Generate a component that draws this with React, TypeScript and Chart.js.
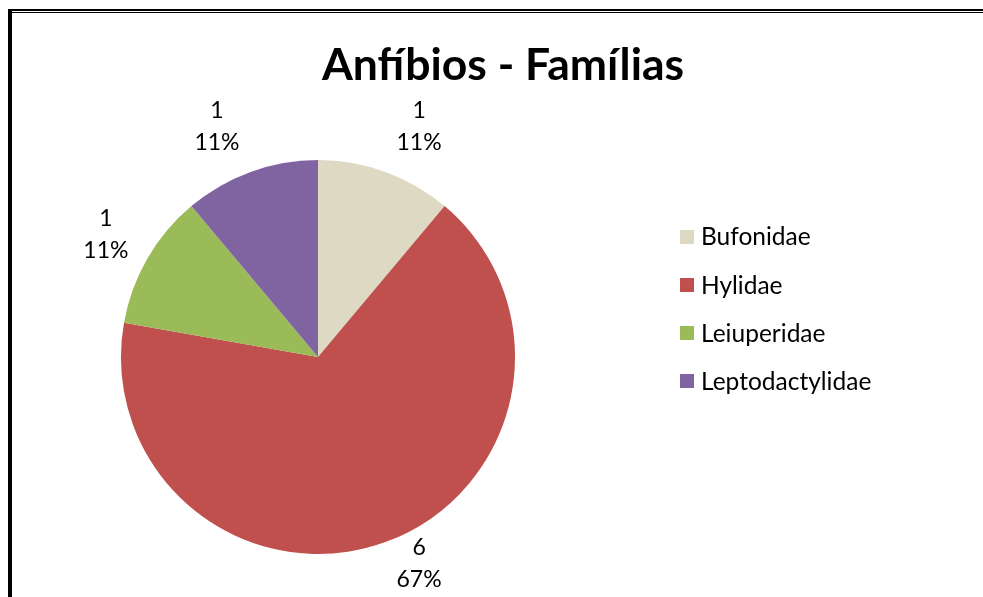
import { useEffect, useRef } from "react";
import { Chart, registerables } from "chart.js";

Chart.register(...registerables);

// Amphibian families and number of species recorded in each
const families = ["Bufonidae", "Hylidae", "Leiuperidae", "Leptodactylidae"];
const speciesCounts = [1, 6, 1, 1];
const sliceColors = ["#DDD9C3", "#C0504D", "#9BBB59", "#8064A2"];
const chartTitle = "Anfíbios - Famílias";

const WIDTH = 983;
const HEIGHT = 597;
const FONT_FAMILY = "Lato, 'Open Sans', sans-serif";
const LABEL_FONT = `23px ${FONT_FAMILY}`;
const LEGEND_FONT = `24.5px ${FONT_FAMILY}`;
const TITLE_FONT = `bold 44.5px ${FONT_FAMILY}`;

// Frame, title, outside data labels and the legend, drawn on the chart canvas
const decorations = {
  id: "decorations",
  beforeDraw(chart: Chart) {
    const { ctx } = chart;
    ctx.save();
    ctx.fillStyle = "#ffffff";
    ctx.fillRect(0, 0, WIDTH, HEIGHT);
    ctx.fillStyle = "#000000";
    // double top rule and heavy left rule of the chart frame
    ctx.fillRect(8, 9, WIDTH - 8, 2);
    ctx.fillRect(10, 12, WIDTH - 10, 1);
    ctx.fillRect(8, 9, 4, HEIGHT - 9);
    ctx.restore();
  },
  afterDatasetsDraw(chart: Chart) {
    const { ctx } = chart;
    const meta = chart.getDatasetMeta(0);
    const values = chart.data.datasets[0].data as number[];
    const total = values.reduce((a, b) => a + b, 0);

    ctx.save();
    ctx.fillStyle = "#000000";

    // title
    ctx.font = TITLE_FONT;
    ctx.textAlign = "center";
    ctx.textBaseline = "alphabetic";
    ctx.fillText(chartTitle, 503, 80);

    // value + percentage labels outside each slice
    ctx.font = LABEL_FONT;
    ctx.textBaseline = "middle";
    const lineGap = 32;
    const halfBoxH = 33;
    meta.data.forEach((el: any, i: number) => {
      const { x, y, startAngle, endAngle, outerRadius } = el.getProps(
        ["x", "y", "startAngle", "endAngle", "outerRadius"],
        true
      );
      const v = values[i];
      const pct = `${Math.round((v / total) * 100)}%`;
      const lines = [String(v), pct];
      const maxW = Math.max(...lines.map((t) => ctx.measureText(t).width));
      const halfBoxW = maxW / 2 + 6;
      const mid = (startAngle + endAngle) / 2;
      const dist = outerRadius + 15;
      const cx = x + dist * Math.cos(mid) + halfBoxW * Math.sign(Math.cos(mid));
      let cy = y + dist * Math.sin(mid) + halfBoxH * Math.sin(mid);
      cy = Math.min(Math.max(cy, halfBoxH), HEIGHT - halfBoxH);
      ctx.fillText(lines[0], cx, cy - lineGap / 2);
      ctx.fillText(lines[1], cx, cy + lineGap / 2);
    });

    // legend
    ctx.font = LEGEND_FONT;
    ctx.textAlign = "left";
    ctx.textBaseline = "middle";
    const legendX = 680;
    const legendTop = 236.5;
    const rowStep = 48.3;
    (chart.data.labels as string[]).forEach((label, i) => {
      const cy = legendTop + i * rowStep;
      ctx.fillStyle = sliceColors[i];
      ctx.fillRect(legendX, Math.round(cy - 7), 14, 14);
      ctx.fillStyle = "#000000";
      ctx.fillText(label, legendX + 21, cy + 1);
    });
    ctx.restore();
  },
};

export default function App() {
  const canvasRef = useRef<HTMLCanvasElement | null>(null);

  useEffect(() => {
    if (!canvasRef.current) return;
    const chart = new Chart(canvasRef.current, {
      type: "pie",
      data: {
        labels: families,
        datasets: [
          {
            data: speciesCounts,
            backgroundColor: sliceColors,
            borderWidth: 0,
            hoverBorderWidth: 0,
            hoverOffset: 0,
          },
        ],
      },
      options: {
        responsive: false,
        animation: false,
        events: [],
        layout: { padding: { left: 121, right: WIDTH - 515, top: 160, bottom: HEIGHT - 554 } },
        plugins: {
          legend: { display: false },
          title: { display: false },
          tooltip: { enabled: false },
        },
      },
      plugins: [decorations],
    });
    return () => chart.destroy();
  }, []);

  return (
    <div style={{ position: "fixed", left: 0, top: 0, width: WIDTH, height: HEIGHT, background: "#fff" }}>
      <canvas ref={canvasRef} width={WIDTH} height={HEIGHT} style={{ display: "block" }} />
    </div>
  );
}
